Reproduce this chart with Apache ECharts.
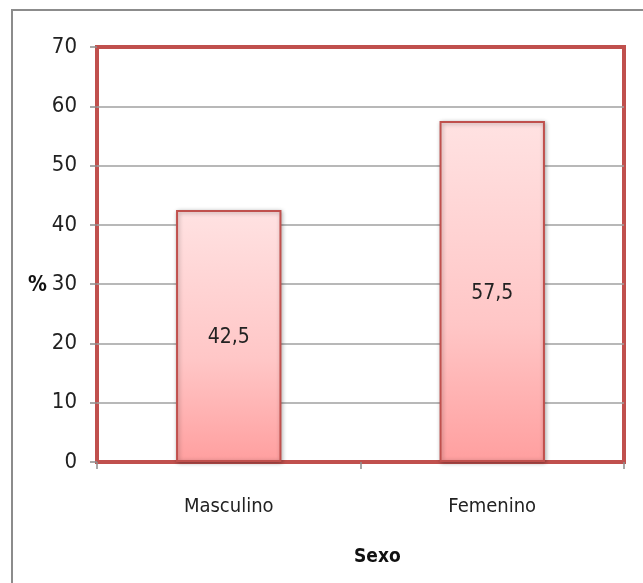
<!DOCTYPE html>
<html>
<head>
<meta charset="utf-8">
<style>
  html, body { margin: 0; padding: 0; background: #fff; }
  #chart { width: 643px; height: 583px; }
</style>
<script src="https://cdn.jsdelivr.net/npm/echarts@6/dist/echarts.min.js"></script>
</head>
<body>
<div id="chart"></div>
<script>
// Distribution by sex (%)
const categories = ['Masculino', 'Femenino'];
const percentValues = [42.5, 57.5];
const yTicks = { min: 0, max: 70, interval: 10 };

const FONT = '"DejaVu Sans Condensed", "Liberation Sans Narrow", sans-serif';
const chart = echarts.init(document.getElementById('chart'));

chart.setOption({
  animation: false,
  backgroundColor: '#ffffff',
  graphic: [
    {
      type: 'rect',
      shape: { x: 12, y: 10, width: 700, height: 700 },
      style: { fill: 'none', stroke: '#8c8c8c', lineWidth: 2 },
      z: 0
    },
    {
      type: 'text',
      left: 28, top: 275,
      style: { text: '%', font: 'bold 21px ' + FONT, fill: '#111' }
    },
    {
      type: 'text',
      left: 354, top: 548,
      style: { text: 'Sexo', font: 'bold 19px ' + FONT, fill: '#111' }
    }
  ],
  grid: {
    left: 97, right: 19, top: 47, bottom: 121,
    show: true,
    borderColor: '#c0504d',
    borderWidth: 4,
    backgroundColor: 'transparent'
  },
  xAxis: {
    type: 'category',
    data: categories,
    boundaryGap: true,
    axisLine: { show: false },
    axisTick: { show: true, alignWithLabel: false, length: 7, lineStyle: { color: '#8c8c8c', width: 1.5 } },
    axisLabel: { margin: 35, fontFamily: FONT, fontSize: 20, color: '#222' }
  },
  yAxis: {
    type: 'value',
    min: yTicks.min, max: yTicks.max, interval: yTicks.interval,
    axisLine: { show: false },
    axisTick: { show: true, length: 7, lineStyle: { color: '#8c8c8c', width: 1.5 } },
    axisLabel: { margin: 20, fontFamily: FONT, fontSize: 22, color: '#222' },
    splitLine: { show: true, showMinLine: false, showMaxLine: false, lineStyle: { color: '#a0a0a0', width: 1.5 } }
  },
  series: [{
    type: 'bar',
    data: percentValues,
    barWidth: '40%',
    itemStyle: {
      color: new echarts.graphic.LinearGradient(0, 0, 0, 1, [
        { offset: 0, color: '#ffe2e2' },
        { offset: 0.6, color: '#ffc6c6' },
        { offset: 1, color: '#ff9f9f' }
      ]),
      borderColor: '#c0504d',
      borderWidth: 2,
      shadowBlur: 4,
      shadowColor: 'rgba(0,0,0,0.3)',
      shadowOffsetX: 1,
      shadowOffsetY: 1
    },
    label: {
      show: true,
      position: 'inside',
      offset: [0, 2],
      fontFamily: FONT,
      fontSize: 21,
      color: '#222',
      formatter: p => String(p.value).replace('.', ',')
    }
  }]
});
</script>
</body>
</html>
